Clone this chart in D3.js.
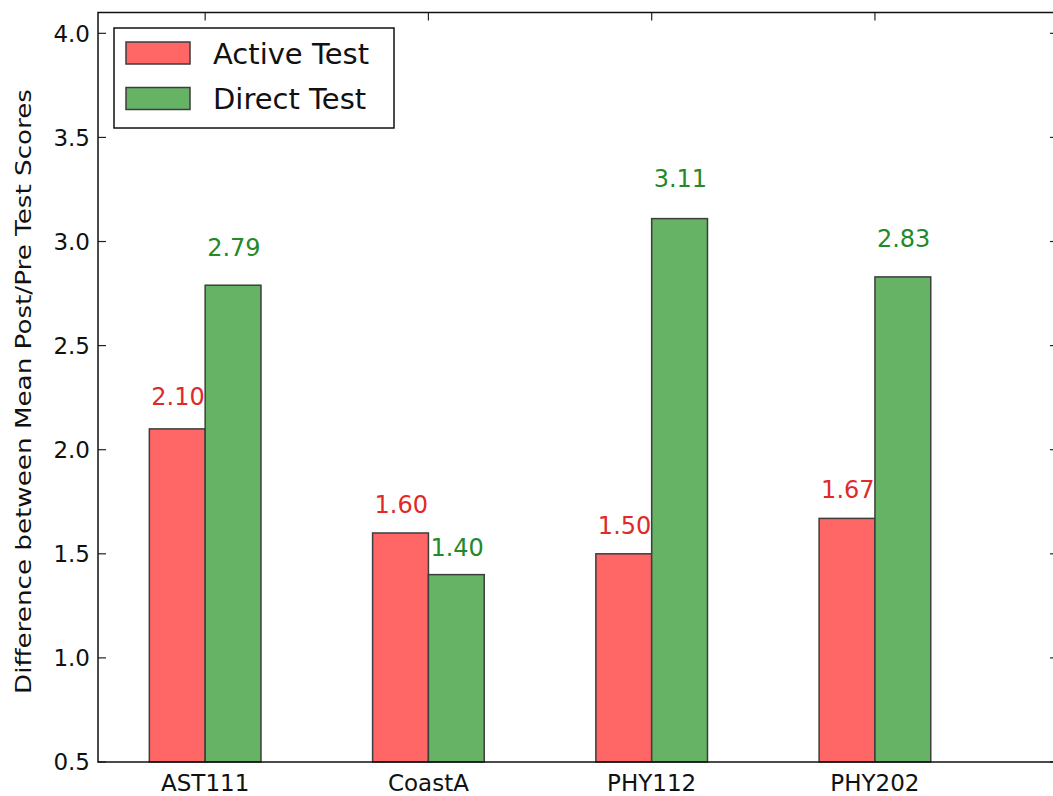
<!DOCTYPE html>
<html>
<head>
<meta charset="utf-8">
<script src="https://cdn.jsdelivr.net/npm/d3@7"></script>
<style>
  html, body { margin: 0; padding: 0; background: #fff; }
  svg { display: block; font-family: "DejaVu Sans", sans-serif; }
</style>
</head>
<body>
<svg id="chart" width="1053" height="796"></svg>
<script>
// Course groups and the two test series
const courses = ["AST111", "CoastA", "PHY112", "PHY202"];
const activeTest = [2.10, 1.60, 1.50, 1.67];
const directTest = [2.79, 1.40, 3.11, 2.83];
const seriesNames = ["Active Test", "Direct Test"];
const yTicks = [0.5, 1.0, 1.5, 2.0, 2.5, 3.0, 3.5, 4.0];
const yLabel = "Difference between Mean Post/Pre Test Scores";

const W = 1053, H = 796;
const plot = { left: 98, right: 1058, top: 12.5, bottom: 762 };
const barWidth = 0.25;

const fill = { active: "#ff6666", direct: "#66b366" };
const textColor = { active: "#e02a2a", direct: "#23892a" };

const svg = d3.select("#chart");

const x = d3.scaleLinear().domain([-0.48, 3.82]).range([plot.left, plot.right]);
const y = d3.scaleLinear().domain([0.5, 4.1]).range([plot.bottom, plot.top]);

const series = [
  { key: "active", name: seriesNames[0], values: activeTest, offset: -barWidth },
  { key: "direct", name: seriesNames[1], values: directTest, offset: 0 }
];

// Inward tick marks on all four sides
const tickLen = 8;
const ticks = svg.append("g").attr("stroke", "#222").attr("stroke-width", 1.2);
yTicks.forEach(t => {
  ticks.append("line").attr("x1", plot.left).attr("x2", plot.left + tickLen)
    .attr("y1", y(t)).attr("y2", y(t));
  ticks.append("line").attr("x1", plot.right).attr("x2", plot.right - tickLen)
    .attr("y1", y(t)).attr("y2", y(t));
});
courses.forEach((c, i) => {
  ticks.append("line").attr("x1", x(i)).attr("x2", x(i))
    .attr("y1", plot.top).attr("y2", plot.top + tickLen);
  ticks.append("line").attr("x1", x(i)).attr("x2", x(i))
    .attr("y1", plot.bottom).attr("y2", plot.bottom - tickLen);
});

// Bars
series.forEach(s => {
  svg.append("g").selectAll("rect")
    .data(s.values)
    .join("rect")
    .attr("x", (d, i) => x(i + s.offset))
    .attr("width", x(barWidth) - x(0))
    .attr("y", d => y(d))
    .attr("height", d => y(0.5) - y(d))
    .attr("fill", fill[s.key])
    .attr("stroke", "#3d3d3d")
    .attr("stroke-width", 1.5);
});

// Value labels above each bar, left-aligned to the bar
series.forEach(s => {
  svg.append("g").selectAll("text")
    .data(s.values)
    .join("text")
    .attr("x", (d, i) => x(i + s.offset) + 2)
    .attr("y", d => y(d * 1.036 + 0.04))
    .attr("font-size", 24)
    .attr("fill", textColor[s.key])
    .text(d => d.toFixed(2));
});

// Frame
svg.append("rect")
  .attr("x", plot.left).attr("y", plot.top)
  .attr("width", plot.right - plot.left).attr("height", plot.bottom - plot.top)
  .attr("fill", "none").attr("stroke", "#111").attr("stroke-width", 1.5);

// Y tick labels
svg.append("g").selectAll("text")
  .data(yTicks)
  .join("text")
  .attr("x", plot.left - 8)
  .attr("y", d => y(d))
  .attr("dy", "0.36em")
  .attr("text-anchor", "end")
  .attr("font-size", 23)
  .attr("fill", "#111")
  .text(d => d.toFixed(1));

// X tick labels
svg.append("g").selectAll("text")
  .data(courses)
  .join("text")
  .attr("x", (d, i) => x(i))
  .attr("y", plot.bottom + 29)
  .attr("text-anchor", "middle")
  .attr("font-size", 23)
  .attr("fill", "#111")
  .text(d => d);

// Y axis title
svg.append("text")
  .attr("transform", `translate(31, ${(88 + 695) / 2}) rotate(-90)`)
  .attr("text-anchor", "middle")
  .attr("font-size", 22)
  .attr("textLength", 605)
  .attr("lengthAdjust", "spacingAndGlyphs")
  .attr("fill", "#111")
  .text(yLabel);

// Legend
const legend = svg.append("g");
legend.append("rect")
  .attr("x", 114).attr("y", 28).attr("width", 280).attr("height", 100)
  .attr("fill", "#fff").attr("stroke", "#111").attr("stroke-width", 1.5);
series.forEach((s, i) => {
  const rowY = 42 + i * 45.5;
  legend.append("rect")
    .attr("x", 126).attr("y", rowY).attr("width", 64).attr("height", 22)
    .attr("fill", fill[s.key]).attr("stroke", "#3d3d3d").attr("stroke-width", 1.5);
  legend.append("text")
    .attr("x", 213).attr("y", rowY + 21.5)
    .attr("font-size", 29)
    .attr("fill", "#111")
    .text(s.name);
});
</script>
</body>
</html>
